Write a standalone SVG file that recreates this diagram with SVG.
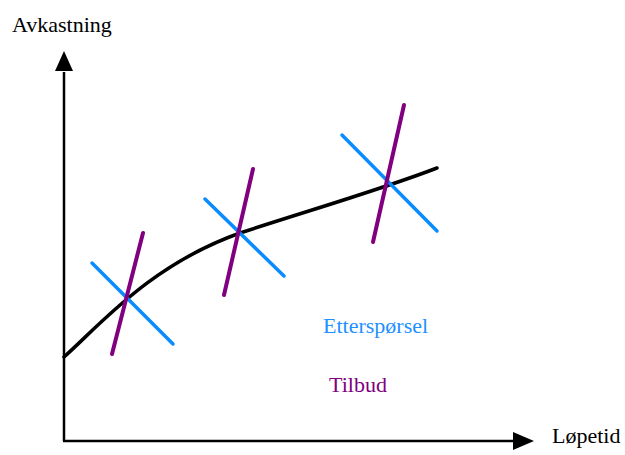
<svg xmlns="http://www.w3.org/2000/svg" width="625" height="455" viewBox="0 0 625 455">
<style>
.lbl{font-family:"Liberation Serif","Times New Roman",serif;font-size:22px}
.axis{stroke:#000;stroke-width:2.5;fill:none}
.curve{stroke:#000;stroke-width:3.5;fill:none;stroke-linecap:round}
.dem{stroke:#0a8cff;stroke-width:3.5;stroke-linecap:round}
.sup{stroke:#800080;stroke-width:4;stroke-linecap:round}
</style>
<rect width="625" height="455" fill="#fff"/>
<g id="axes">
<path class="axis" d="M64,441 L64,72"/>
<polygon points="64,51 55,71 73,71" fill="#000"/>
<path class="axis" d="M63,441 L514,441"/>
<polygon points="534,441 513,432 513,450" fill="#000"/>
</g>
<g id="curve">
<path class="curve" d="M64,357 C100,325 150,265 240,233 C310,210 380,190 437,168"/>
</g>
<g id="connectors">
<line class="dem" x1="92" y1="263" x2="173" y2="344"/>
<line class="sup" x1="143" y1="233" x2="112" y2="354"/>
<line class="dem" x1="205" y1="199" x2="284" y2="276"/>
<line class="sup" x1="253" y1="169" x2="224" y2="295"/>
<line class="dem" x1="342" y1="135" x2="437" y2="231"/>
<line class="sup" x1="404" y1="105" x2="373" y2="242"/>
</g>
<g id="labels">
<text class="lbl" x="12" y="32" fill="#000">Avkastning</text>
<text class="lbl" x="323" y="333" fill="#1e90ff">Etterspørsel</text>
<text class="lbl" x="329" y="392" fill="#800080">Tilbud</text>
<text class="lbl" x="552" y="443" fill="#000">Løpetid</text>
</g>
</svg>
